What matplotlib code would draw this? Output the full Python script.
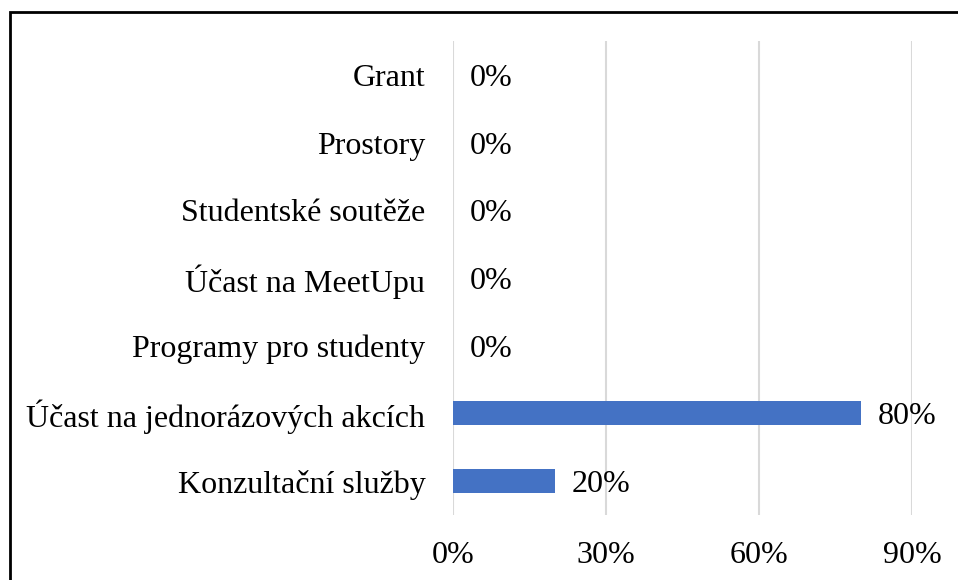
import matplotlib.pyplot as plt
from matplotlib.patches import Rectangle
from matplotlib.ticker import PercentFormatter

categories = ["Grant", "Prostory", "Studentské soutěže", "Účast na MeetUpu",
              "Programy pro studenty", "Účast na jednorázových akcích",
              "Konzultační služby"]
values = [0, 0, 0, 0, 0, 80, 20]
ticks = [0, 30, 60, 90]

plt.rcParams['font.family'] = ['Liberation Serif', 'DejaVu Serif']

fig = plt.figure(figsize=(9.58, 5.8), dpi=100)
ax = fig.add_axes([0.4729, 0.1121, 0.4791, 0.8172])

pos = list(range(len(categories)))
ax.barh(pos, values, height=0.355, color="#4472C4", zorder=3)
ax.set_yticks(pos)
ax.set_yticklabels(categories, fontsize=23, va='center_baseline')
ax.set_ylim(len(categories) - 0.5, -0.5)

ax.set_xlim(0, 90)
ax.set_xticks(ticks)
ax.xaxis.set_major_formatter(PercentFormatter(decimals=0))
ax.tick_params(axis='x', labelsize=23, length=0, pad=19)
ax.tick_params(axis='y', length=0, pad=20)
ax.grid(axis='x', color="#D9D9D9", linewidth=1.5, zorder=0)
for s in ax.spines.values():
    s.set_visible(False)

for p, v in zip(pos, values):
    ax.annotate(f"{v}%", (v, p), xytext=(12, 0), textcoords='offset points',
                va='center_baseline', ha='left', fontsize=23)

# border of the chart area (right and bottom edge fall outside the picture)
fig.patches.append(Rectangle((10 / 958, -0.1), 1.2, (580 - 12) / 580 + 0.1,
                             transform=fig.transFigure, fill=False,
                             edgecolor='black', linewidth=2))

fig.savefig("out.png", dpi=100)
